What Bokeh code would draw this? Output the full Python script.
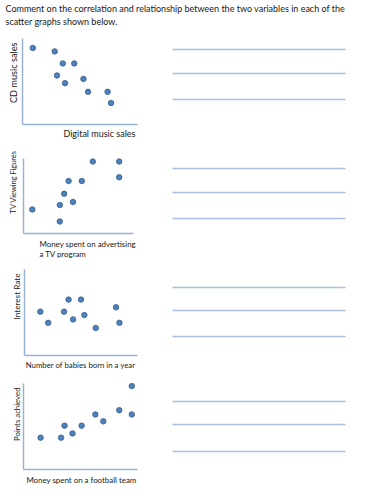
import math
from bokeh.plotting import figure
from bokeh.models import Range1d, FixedTicker, LinearAxis
from bokeh.embed import file_html
from bokeh.resources import INLINE
from bokeh.core.properties import value

# ---- text ----
title_lines = [
    "Comment on the correlation and relationship between the two variables in each of the",
    "scatter graphs shown below.",
]

# ---- data (arbitrary 0-10 units) ----
digital_music_sales = [0.9, 2.8, 3.5, 4.5, 3.0, 3.7, 5.3, 5.7, 7.4, 7.7]
cd_music_sales      = [8.9, 8.5, 7.1, 7.1, 5.7, 4.8, 5.3, 3.8, 3.8, 2.5]

tv_ad_money         = [0.8, 3.3, 3.3, 3.7, 4.1, 4.5, 5.3, 6.3, 8.7, 8.7]
tv_viewing          = [3.2, 3.8, 1.6, 5.3, 7.0, 4.2, 7.0, 9.6, 9.6, 7.5]

babies_born         = [1.4, 2.1, 3.5, 3.9, 4.3, 5.0, 5.3, 6.3, 8.1, 8.4]
interest_rate       = [5.1, 3.8, 5.1, 6.5, 4.2, 6.5, 4.7, 3.2, 5.6, 3.8]

football_money      = [1.5, 3.3, 3.6, 4.3, 5.1, 6.3, 7.0, 8.4, 9.5, 9.5]
points_achieved     = [3.7, 3.7, 5.1, 4.2, 5.1, 6.4, 5.6, 6.9, 6.4, 9.7]

x_labels = [["Digital music sales"], ["Money spent on advertising", "a TV program"],
            ["Number of babies born in a year"], ["Money spent on a football team"]]
y_labels = ["CD music sales", "TV Viewing Figures", "Interest Rate", "Points achieved"]

# ---- layout / style (page pixels) ----
W, H = 375, 500
FONT = "Lato"
TXT = "#1a1a1a"
AXIS_COL = "#98b2d4"
DOT_FILL = "#4f81bd"
DOT_LINE = "#385d8a"
ANSWER_COL = "#a9c0de"
DATA_MAX = 10

panels = [
    dict(top=38,  fh=86, left=22, fw=115, lines=[49, 73, 99],
         xl=dict(x=135, ys=[133], align="right", size="9px"),
         yl=dict(x=13, y=42, size="9.2px")),
    dict(top=158, fh=75, left=23, fw=110, lines=[168, 192, 218],
         xl=dict(x=39, ys=[243, 253], align="left", size="7.9px"),
         yl=dict(x=13, y=150, size="7.4px")),
    dict(top=269, fh=86, left=24, fw=113, lines=[287, 310, 336],
         xl=dict(x=135, ys=[364], align="right", size="7.8px"),
         yl=dict(x=16.5, y=273, size="8.2px")),
    dict(top=383, fh=86, left=23, fw=114, lines=[401, 424, 451],
         xl=dict(x=136, ys=[479], align="right", size="7.9px"),
         yl=dict(x=16, y=387, size="7.8px")),
]
ANSWER_X = (172, 345)

series = [
    (digital_music_sales, cd_music_sales),
    (tv_ad_money, tv_viewing),
    (babies_born, interest_rate),
    (football_money, points_achieved),
]

p = figure(width=W, height=H, x_range=Range1d(0, W), y_range=Range1d(H, 0),
           x_axis_type=None, y_axis_type=None, toolbar_location=None,
           output_backend="svg", min_border=0)
p.outline_line_color = None
p.grid.visible = False

# title
p.text(x=[5, 5], y=[8, 21], text=title_lines, text_font=value(FONT),
       text_font_size="9px", text_color=TXT, text_baseline="middle", text_align="left")

for i, (pn, (xs, ys), xl, yl) in enumerate(zip(panels, series, x_labels, y_labels)):
    name = f"c{i}"
    sx = pn["fw"] / DATA_MAX
    sy = pn["fh"] / DATA_MAX
    bottom = pn["top"] + pn["fh"]
    p.extra_x_ranges[name] = Range1d(-pn["left"] / sx, (W - pn["left"]) / sx)
    p.extra_y_ranges[name] = Range1d((bottom - H) / sy, bottom / sy)

    for place in ("below", "left"):
        ax = LinearAxis(x_range_name=name, y_range_name=name, fixed_location=0,
                        bounds=(0, DATA_MAX), ticker=FixedTicker(ticks=[]))
        ax.major_tick_line_color = None
        ax.minor_tick_line_color = None
        ax.major_label_text_font_size = "0px"
        ax.axis_line_color = AXIS_COL
        ax.axis_line_width = 1.5
        p.add_layout(ax, place)

    p.scatter(xs, ys, x_range_name=name, y_range_name=name, size=5.5,
              fill_color=DOT_FILL, line_color=DOT_LINE, line_width=0.8)

    # axis titles
    p.text(x=[pn["xl"]["x"]] * len(xl), y=pn["xl"]["ys"], text=xl, text_font=value(FONT),
           text_font_size=pn["xl"]["size"], text_color=TXT,
           text_align=pn["xl"]["align"], text_baseline="middle")
    p.text(x=[pn["yl"]["x"]], y=[pn["yl"]["y"]], text=[yl], angle=math.pi / 2,
           text_font=value(FONT), text_font_size=pn["yl"]["size"], text_color=TXT,
           text_align="right", text_baseline="middle")

    # answer lines
    n = len(pn["lines"])
    p.segment(x0=[ANSWER_X[0]] * n, x1=[ANSWER_X[1]] * n, y0=pn["lines"], y1=pn["lines"],
              line_color=ANSWER_COL, line_width=1.5)

open("out.html", "w").write(file_html(p, INLINE))
